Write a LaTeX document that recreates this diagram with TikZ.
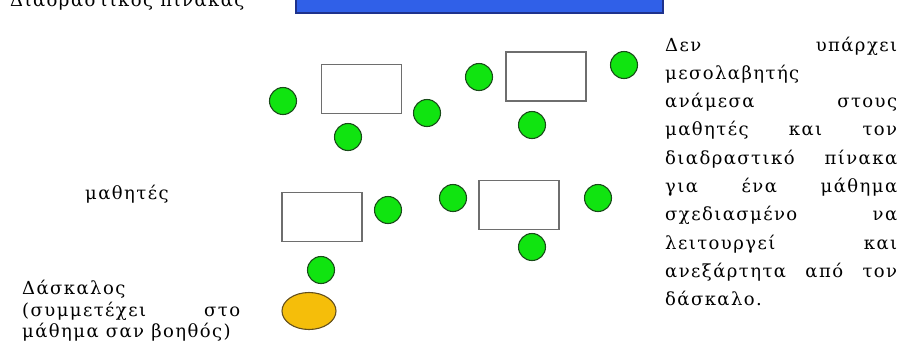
\documentclass[tikz,border=0pt]{standalone}
\usepackage{fontspec}
\setmainfont{DejaVu Serif}[LetterSpace=8]
\usetikzlibrary{shapes.geometric}
\definecolor{barblue}{RGB}{48,96,232}
\definecolor{bardark}{RGB}{30,50,140}
\definecolor{stgreen}{RGB}{16,228,16}
\definecolor{stdark}{RGB}{25,75,25}
\definecolor{tchyellow}{RGB}{245,190,10}
\definecolor{tchdark}{RGB}{100,80,30}
\definecolor{deskgray}{RGB}{110,110,110}
\tikzset{
  student/.style={circle, fill=stgreen, draw=stdark, line width=1.1pt, minimum size=27pt, inner sep=0pt},
  desk/.style={rectangle, draw=deskgray, line width=1.3pt, fill=white, minimum width=80pt, minimum height=49pt, inner sep=0pt},
  teacher/.style={ellipse, fill=tchyellow, draw=tchdark, line width=1.1pt, minimum width=54pt, minimum height=37pt, inner sep=0pt},
  board/.style={rectangle, fill=barblue, draw=bardark, line width=1.2pt, minimum width=367pt, minimum height=17pt, inner sep=0pt},
  txt/.style={anchor=base west, inner sep=0pt, font=\fontsize{18}{21.5}\selectfont}
}
\begin{document}
\begin{tikzpicture}[x=1pt,y=-1pt]
\useasboundingbox (0,0) rectangle (900,360);
% board and its (cut) title
\node[board] (board) at (479.5,4.5) {};
\node[txt] (title) at (10,6) {Διαδραστικός πίνακας};
% desks
\node[desk] (d1) at (361.5,89) {};
\node[desk] (d2) at (546,76.5) {};
\node[desk] (d3) at (322,217) {};
\node[desk] (d4) at (519,205) {};
% students
\node[student] (s1) at (283,101) {};
\node[student] (s2) at (348,137) {};
\node[student] (s3) at (427,113) {};
\node[student] (s4) at (479,77) {};
\node[student] (s5) at (532,125) {};
\node[student] (s6) at (624,65) {};
\node[student] (s7) at (388,210) {};
\node[student] (s8) at (453,198) {};
\node[student] (s9) at (598,198) {};
\node[student] (s10) at (532,247) {};
\node[student] (s11) at (321,270) {};
% teacher
\node[teacher] (t) at (309,311) {};
% labels
\node[txt] (lstud) at (85,199) {μαθητές};
\node[txt] (lt1) at (22,294) {Δάσκαλος};
\node[txt] (lt2) at (22,316) {\makebox[218pt][s]{(συμμετέχει στο}};
\node[txt] (lt3) at (22,337.5) {μάθημα σαν βοηθός)};
% right paragraph
\node[txt] (r1) at (665,51) {\makebox[232pt][s]{Δεν υπάρχει}};
\node[txt] (r2) at (665,79.3) {μεσολαβητής};
\node[txt] (r3) at (665,107.6) {\makebox[232pt][s]{ανάμεσα στους}};
\node[txt] (r4) at (665,135.9) {\makebox[232pt][s]{μαθητές και τον}};
\node[txt] (r5) at (665,164.2) {\makebox[232pt][s]{διαδραστικό πίνακα}};
\node[txt] (r6) at (665,192.5) {\makebox[232pt][s]{για ένα μάθημα}};
\node[txt] (r7) at (665,220.8) {\makebox[232pt][s]{σχεδιασμένο να}};
\node[txt] (r8) at (665,249.1) {\makebox[232pt][s]{λειτουργεί και}};
\node[txt] (r9) at (665,277.4) {\makebox[232pt][s]{ανεξάρτητα από τον}};
\node[txt] (r10) at (665,305.7) {δάσκαλο.};
\end{tikzpicture}
\end{document}
